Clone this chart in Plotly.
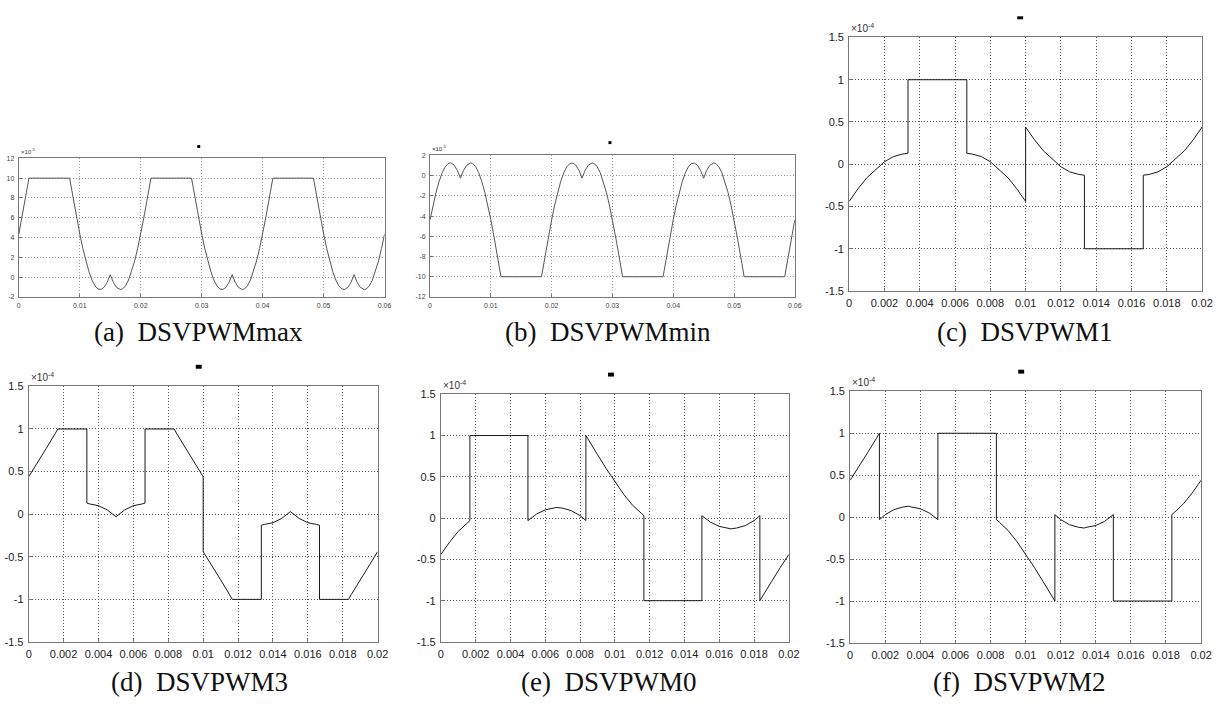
import plotly.graph_objects as go

# ---------------------------------------------------------------------------
# Modulating signals of the discontinuous SVPWM variants
# (a), (b): y in units of 1e-5 ; (c)-(f): y in units of 1e-4 ; t in seconds
# ---------------------------------------------------------------------------
t_max = [0, 0.0005, 0.001, 0.0015, 0.001667, 0.008333, 0.0085, 0.009, 0.0095, 0.01,
         0.0105, 0.011, 0.0115, 0.012, 0.0125, 0.013, 0.013333, 0.0135, 0.014, 0.0145,
         0.015, 0.0155, 0.016, 0.0165, 0.016667, 0.017, 0.0175, 0.018, 0.0185, 0.019, 0.0195,
         0.02, 0.0205, 0.021, 0.0215, 0.021667, 0.028333, 0.0285, 0.029, 0.0295, 0.03,
         0.0305, 0.031, 0.0315, 0.032, 0.0325, 0.033, 0.033333, 0.0335, 0.034, 0.0345,
         0.035, 0.0355, 0.036, 0.0365, 0.036667, 0.037, 0.0375, 0.038, 0.0385, 0.039, 0.0395,
         0.04, 0.0405, 0.041, 0.0415, 0.041667, 0.048333, 0.0485, 0.049, 0.0495, 0.05,
         0.0505, 0.051, 0.0515, 0.052, 0.0525, 0.053, 0.053333, 0.0535, 0.054, 0.0545,
         0.055, 0.0555, 0.056, 0.0565, 0.056667, 0.057, 0.0575, 0.058, 0.0585, 0.059, 0.0595,
         0.06]
v_max = [4.37, 5.97, 7.66, 9.41, 10, 10, 9.41, 7.66, 5.97, 4.37,
         2.91, 1.63, 0.56, -0.29, -0.88, -1.20, -1.26, -1.24, -1.01, -0.51,
         0.25, -0.51, -1.01, -1.24, -1.26, -1.20, -0.88, -0.29, 0.56, 1.63, 2.91,
         4.37, 5.97, 7.66, 9.41, 10, 10, 9.41, 7.66, 5.97, 4.37,
         2.91, 1.63, 0.56, -0.29, -0.88, -1.20, -1.26, -1.24, -1.01, -0.51,
         0.25, -0.51, -1.01, -1.24, -1.26, -1.20, -0.88, -0.29, 0.56, 1.63, 2.91,
         4.37, 5.97, 7.66, 9.41, 10, 10, 9.41, 7.66, 5.97, 4.37,
         2.91, 1.63, 0.56, -0.29, -0.88, -1.20, -1.26, -1.24, -1.01, -0.51,
         0.25, -0.51, -1.01, -1.24, -1.26, -1.20, -0.88, -0.29, 0.56, 1.63, 2.91,
         4.37]

t_min = [0, 0.0005, 0.001, 0.0015, 0.002, 0.0025, 0.003, 0.003333, 0.0035, 0.004,
         0.0045, 0.005, 0.0055, 0.006, 0.0065, 0.006667, 0.007, 0.0075, 0.008, 0.0085,
         0.009, 0.0095, 0.01, 0.0105, 0.011, 0.0115, 0.011667, 0.018333, 0.0185, 0.019, 0.0195,
         0.02, 0.0205, 0.021, 0.0215, 0.022, 0.0225, 0.023, 0.023333, 0.0235, 0.024,
         0.0245, 0.025, 0.0255, 0.026, 0.0265, 0.026667, 0.027, 0.0275, 0.028, 0.0285,
         0.029, 0.0295, 0.03, 0.0305, 0.031, 0.0315, 0.031667, 0.038333, 0.0385, 0.039, 0.0395,
         0.04, 0.0405, 0.041, 0.0415, 0.042, 0.0425, 0.043, 0.043333, 0.0435, 0.044,
         0.0445, 0.045, 0.0455, 0.046, 0.0465, 0.046667, 0.047, 0.0475, 0.048, 0.0485,
         0.049, 0.0495, 0.05, 0.0505, 0.051, 0.0515, 0.051667, 0.058333, 0.0585, 0.059, 0.0595,
         0.06]
v_min = [-4.37, -2.91, -1.63, -0.56, 0.29, 0.88, 1.20, 1.26, 1.24, 1.01,
         0.51, -0.25, 0.51, 1.01, 1.24, 1.26, 1.20, 0.88, 0.29, -0.56,
         -1.63, -2.91, -4.37, -5.97, -7.66, -9.41, -10, -10, -9.41, -7.66, -5.97,
         -4.37, -2.91, -1.63, -0.56, 0.29, 0.88, 1.20, 1.26, 1.24, 1.01,
         0.51, -0.25, 0.51, 1.01, 1.24, 1.26, 1.20, 0.88, 0.29, -0.56,
         -1.63, -2.91, -4.37, -5.97, -7.66, -9.41, -10, -10, -9.41, -7.66, -5.97,
         -4.37, -2.91, -1.63, -0.56, 0.29, 0.88, 1.20, 1.26, 1.24, 1.01,
         0.51, -0.25, 0.51, 1.01, 1.24, 1.26, 1.20, 0.88, 0.29, -0.56,
         -1.63, -2.91, -4.37, -5.97, -7.66, -9.41, -10, -10, -9.41, -7.66, -5.97,
         -4.37]

t_pwm1 = [0, 0.0005, 0.001, 0.0015, 0.002, 0.0025, 0.003, 0.003333, 0.003333,
          0.006667, 0.006667, 0.007, 0.0075, 0.008, 0.0085, 0.009, 0.0095, 0.01, 0.01,
          0.0105, 0.011, 0.0115, 0.012, 0.0125, 0.013, 0.013333, 0.013333,
          0.016667, 0.016667, 0.017, 0.0175, 0.018, 0.0185, 0.019, 0.0195, 0.02]
v_pwm1 = [-0.44, -0.29, -0.16, -0.06, 0.03, 0.09, 0.12, 0.13, 1,
          1, 0.13, 0.12, 0.09, 0.03, -0.06, -0.16, -0.29, -0.44, 0.44,
          0.29, 0.16, 0.06, -0.03, -0.09, -0.12, -0.13, -1,
          -1, -0.13, -0.12, -0.09, -0.03, 0.06, 0.16, 0.29, 0.44]

t_pwm3 = [0, 0.0005, 0.001, 0.0015, 0.001667, 0.003333, 0.003333, 0.0035, 0.004, 0.0045,
          0.005, 0.0055, 0.006, 0.0065, 0.006667, 0.006667, 0.008333, 0.0085, 0.009, 0.0095,
          0.01, 0.01, 0.0105, 0.011, 0.0115, 0.011667, 0.013333, 0.013333, 0.0135, 0.014,
          0.0145, 0.015, 0.0155, 0.016, 0.0165, 0.016667, 0.016667, 0.018333, 0.0185, 0.019,
          0.0195, 0.02]
v_pwm3 = [0.44, 0.6, 0.77, 0.94, 1, 1, 0.13, 0.12, 0.1, 0.05,
          -0.03, 0.05, 0.1, 0.12, 0.13, 1, 1, 0.94, 0.77, 0.6,
          0.44, -0.44, -0.6, -0.77, -0.94, -1, -1, -0.13, -0.12, -0.1,
          -0.05, 0.03, -0.05, -0.1, -0.12, -0.13, -1, -1, -0.94, -0.77,
          -0.6, -0.44]

t_pwm0 = [0, 0.0005, 0.001, 0.0015, 0.001667, 0.001667, 0.005, 0.005, 0.0055, 0.006,
          0.0065, 0.006667, 0.007, 0.0075, 0.008, 0.008333, 0.008333, 0.0085, 0.009, 0.0095,
          0.01, 0.0105, 0.011, 0.0115, 0.011667, 0.011667, 0.015, 0.015, 0.0155, 0.016,
          0.0165, 0.016667, 0.017, 0.0175, 0.018, 0.018333, 0.018333, 0.0185, 0.019, 0.0195,
          0.02]
v_pwm0 = [-0.44, -0.29, -0.16, -0.06, -0.03, 1, 1, -0.03, 0.05, 0.1,
          0.12, 0.13, 0.12, 0.09, 0.03, -0.03, 1, 0.94, 0.77, 0.6,
          0.44, 0.29, 0.16, 0.06, 0.03, -1, -1, 0.03, -0.05, -0.1,
          -0.12, -0.13, -0.12, -0.09, -0.03, 0.03, -1, -0.94, -0.77, -0.6,
          -0.44]

t_pwm2 = [0, 0.0005, 0.001, 0.0015, 0.001667, 0.001667, 0.002, 0.0025, 0.003, 0.003333,
          0.0035, 0.004, 0.0045, 0.005, 0.005, 0.008333, 0.008333, 0.0085, 0.009, 0.0095,
          0.01, 0.0105, 0.011, 0.0115, 0.011667, 0.011667, 0.012, 0.0125, 0.013, 0.013333,
          0.0135, 0.014, 0.0145, 0.015, 0.015, 0.018333, 0.018333, 0.0185, 0.019, 0.0195,
          0.02]
v_pwm2 = [0.44, 0.6, 0.77, 0.94, 1, -0.03, 0.03, 0.09, 0.12, 0.13,
          0.12, 0.1, 0.05, -0.03, 1, 1, -0.03, -0.06, -0.16, -0.29,
          -0.44, -0.6, -0.77, -0.94, -1, 0.03, -0.03, -0.09, -0.12, -0.13,
          -0.12, -0.1, -0.05, 0.03, -1, -1, 0.03, 0.06, 0.16, 0.29,
          0.44]

# tick values / labels
xt_long = [0, 0.01, 0.02, 0.03, 0.04, 0.05, 0.06]
xt_long_txt = ["0", "0.01", "0.02", "0.03", "0.04", "0.05", "0.06"]
yt_max = [-2, 0, 2, 4, 6, 8, 10, 12]
yt_max_txt = ["-2", "0", "2", "4", "6", "8", "10", "12"]
yt_min = [-12, -10, -8, -6, -4, -2, 0, 2]
yt_min_txt = ["-12", "-10", "-8", "-6", "-4", "-2", "0", "2"]
xt_short = [0, 0.002, 0.004, 0.006, 0.008, 0.01, 0.012, 0.014, 0.016, 0.018, 0.02]
xt_short_txt = ["0", "0.002", "0.004", "0.006", "0.008", "0.01", "0.012", "0.014",
                "0.016", "0.018", "0.02"]
yt_short = [-1.5, -1, -0.5, 0, 0.5, 1, 1.5]
yt_short_txt = ["-1.5", "-1", "-0.5", "0", "0.5", "1", "1.5"]

captions = ["(a)  DSVPWMmax", "(b)  DSVPWMmin", "(c)  DSVPWM1",
            "(d)  DSVPWM3", "(e)  DSVPWM0", "(f)  DSVPWM2"]

W, H = 1220, 704
SANS = "Liberation Sans"
SERIF = "Liberation Serif"

# panel layout: pixel boxes (left, top, right, bottom)
panels = [
    dict(t=t_max, v=v_max, box=(16, 155, 386, 296), xr=[0, 0.06], yr=[-2, 12],
         xt=xt_long, xtt=xt_long_txt, yt=yt_max, ytt=yt_max_txt, exp="-5", small=True,
         cap=(198, 332), mark=(198, 143, 3, 3)),
    dict(t=t_min, v=v_min, box=(432, 152, 801, 296), xr=[0, 0.06], yr=[-12, 2],
         xt=xt_long, xtt=xt_long_txt, yt=yt_min, ytt=yt_min_txt, exp="-5", small=True,
         cap=(612, 332), mark=(614, 139, 3, 3)),
    dict(t=t_pwm1, v=v_pwm1, box=(856, 32, 1213, 290), xr=[0, 0.02], yr=[-1.5, 1.5],
         xt=xt_short, xtt=xt_short_txt, yt=yt_short, ytt=yt_short_txt, exp="-4", small=False,
         cap=(1034, 332), mark=(1029, 12, 6, 3)),
    dict(t=t_pwm3, v=v_pwm3, box=(26, 387, 379, 647), xr=[0, 0.02], yr=[-1.5, 1.5],
         xt=xt_short, xtt=xt_short_txt, yt=yt_short, ytt=yt_short_txt, exp="-4", small=False,
         cap=(199, 688), mark=(198, 367, 6, 4)),
    dict(t=t_pwm0, v=v_pwm0, box=(443, 395, 795, 647), xr=[0, 0.02], yr=[-1.5, 1.5],
         xt=xt_short, xtt=xt_short_txt, yt=yt_short, ytt=yt_short_txt, exp="-4", small=False,
         cap=(613, 688), mark=(615, 375, 6, 4)),
    dict(t=t_pwm2, v=v_pwm2, box=(857, 392, 1212, 648), xr=[0, 0.02], yr=[-1.5, 1.5],
         xt=xt_short, xtt=xt_short_txt, yt=yt_short, ytt=yt_short_txt, exp="-4", small=False,
         cap=(1028, 688), mark=(1030, 372, 6, 4)),
]

fig = go.Figure()
annotations = []
shapes = []

for i, p in enumerate(panels, start=1):
    sfx = "" if i == 1 else str(i)
    xa, ya = "x" + sfx, "y" + sfx
    l, t, r, b = p["box"]
    small = p["small"]
    tick_font = dict(family=SANS, size=7 if small else 11,
                     color="#444" if small else "#222")

    fig.add_trace(go.Scatter(
        x=p["t"], y=p["v"], mode="lines", xaxis=xa, yaxis=ya,
        line=dict(color="#555" if small else "#1a1a1a", width=1),
        showlegend=False, hoverinfo="skip"))

    axis_common = dict(showline=True, mirror=True, linecolor="#777", linewidth=1,
                       showgrid=True, gridcolor="#999" if small else "#555",
                       griddash="1px,2px", gridwidth=1, zeroline=False,
                       ticks="inside", ticklen=3, tickcolor="#777",
                       tickfont=tick_font, ticklabelstandoff=2)

    fig.layout["xaxis" + sfx] = dict(
        domain=[l / W, r / W], range=p["xr"], anchor=ya,
        tickmode="array", tickvals=p["xt"], ticktext=p["xtt"], **axis_common)
    fig.layout["yaxis" + sfx] = dict(
        domain=[1 - b / H, 1 - t / H], range=p["yr"], anchor=xa,
        tickmode="array", tickvals=p["yt"], ticktext=p["ytt"], **axis_common)

    # exponent label above the top-left corner
    annotations.append(dict(
        xref=xa + " domain", yref=ya + " domain", x=0, y=1,
        xanchor="left", yanchor="bottom", yshift=1, showarrow=False,
        text="×10<sup>" + p["exp"] + "</sup>",
        font=dict(family=SANS, size=6 if small else 10, color="#333")))

    # sub-figure caption
    cx, cy = p["cap"]
    annotations.append(dict(
        xref="paper", yref="paper", x=cx / W, y=1 - cy / H,
        xanchor="center", yanchor="middle", showarrow=False,
        text=captions[i - 1],
        font=dict(family=SERIF, size=27, color="#111")))

    # tiny title block above each axes
    mx, my, mw, mh = p["mark"]
    shapes.append(dict(type="rect", xref="paper", yref="paper",
                       x0=(mx - mw / 2) / W, x1=(mx + mw / 2) / W,
                       y0=1 - (my + mh / 2) / H, y1=1 - (my - mh / 2) / H,
                       fillcolor="black", line=dict(width=0)))

fig.update_layout(
    width=W, height=H,
    margin=dict(l=0, r=0, t=0, b=0),
    paper_bgcolor="white", plot_bgcolor="white",
    annotations=annotations, shapes=shapes,
)

fig.write_html("out.html")
